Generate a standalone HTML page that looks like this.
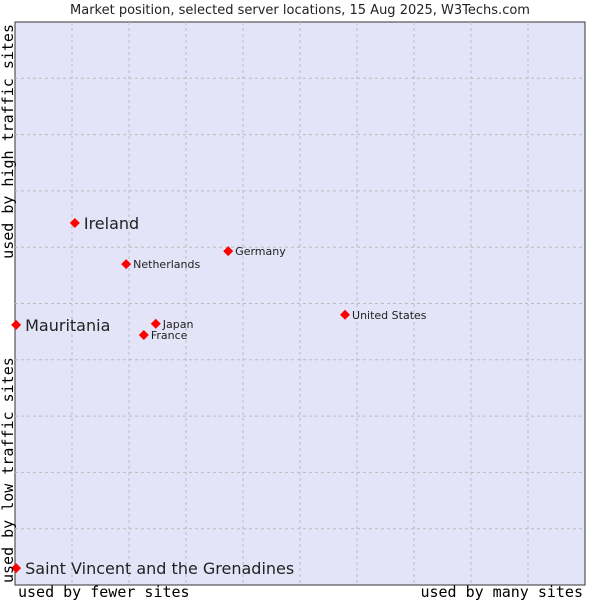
<!DOCTYPE html>
<html><head><meta charset="utf-8"><style>
body{margin:0;background:#fff}
svg{display:block}
</style></head><body>
<svg id="chart" width="600" height="600" xmlns="http://www.w3.org/2000/svg" font-family="'DejaVu Sans','Liberation Sans',sans-serif">
<text x="300" y="14" font-size="13" text-anchor="middle" fill="#222">Market position, selected server locations, 15 Aug 2025, W3Techs.com</text>
<rect x="15" y="22" width="570" height="563" fill="#e4e4f8" stroke="#333" stroke-width="1"/>
<g id="grid"></g>
<g id="points"></g>
<text x="18" y="597" font-family="'DejaVu Sans Mono','Liberation Mono',monospace" font-size="15">used by fewer sites</text>
<text x="583" y="597" text-anchor="end" font-family="'DejaVu Sans Mono','Liberation Mono',monospace" font-size="15">used by many sites</text>
<text transform="translate(13,24) rotate(-90)" text-anchor="end" font-family="'DejaVu Sans Mono','Liberation Mono',monospace" font-size="15">used by high traffic sites</text>
<text transform="translate(13,583) rotate(-90)" font-family="'DejaVu Sans Mono','Liberation Mono',monospace" font-size="15">used by low traffic sites</text>
</svg>
<script>
const names=["Ireland","Germany","Netherlands","United States","Mauritania","Japan","France","Saint Vincent and the Grenadines"];
const xVals=[10.5,37.4,19.5,57.9,0.2,24.7,22.6,0.2];
const yVals=[64.3,59.3,57.0,48.0,46.2,46.4,44.4,3.0];
const bigLabel=[true,false,false,false,true,false,false,true];
const X0=15,X1=585,Y0=585,Y1=22;
const sx=v=>X0+(X1-X0)*v/100;
const sy=v=>Y0-(Y0-Y1)*v/100;
const NS="http://www.w3.org/2000/svg";
const grid=document.getElementById('grid');
for(let i=1;i<10;i++){
  const lv=document.createElementNS(NS,'line');
  
  
  lv.setAttribute('x1',sx(i*10));lv.setAttribute('x2',sx(i*10));
  lv.setAttribute('y1',Y1);lv.setAttribute('y2',Y0);
  lv.setAttribute('stroke','#bbb');lv.setAttribute('stroke-dasharray','3,3');
  grid.appendChild(lv);
  const lh=document.createElementNS(NS,'line');
  
  
  lh.setAttribute('y1',sy(i*10));lh.setAttribute('y2',sy(i*10));
  lh.setAttribute('x1',X0);lh.setAttribute('x2',X1);
  lh.setAttribute('stroke','#bbb');lh.setAttribute('stroke-dasharray','3,3');
  grid.appendChild(lh);
}
const pts=document.getElementById('points');
names.forEach((n,i)=>{
  const x=sx(xVals[i]),y=sy(yVals[i]);
  const d=document.createElementNS(NS,'polygon');
  
  
  d.setAttribute('points',`${x},${y-5} ${x+5},${y} ${x},${y+5} ${x-5},${y}`);
  d.setAttribute('fill','#f00');
  pts.appendChild(d);
  const t=document.createElementNS(NS,'text');
  
  
  t.setAttribute('x',x+(bigLabel[i]?9:7));
  t.setAttribute('y',y+(bigLabel[i]?6:4));
  t.setAttribute('font-size',bigLabel[i]?'16':'11');
  t.setAttribute('fill','#222');
  t.textContent=n;
  pts.appendChild(t);
});
</script>
</body></html>
